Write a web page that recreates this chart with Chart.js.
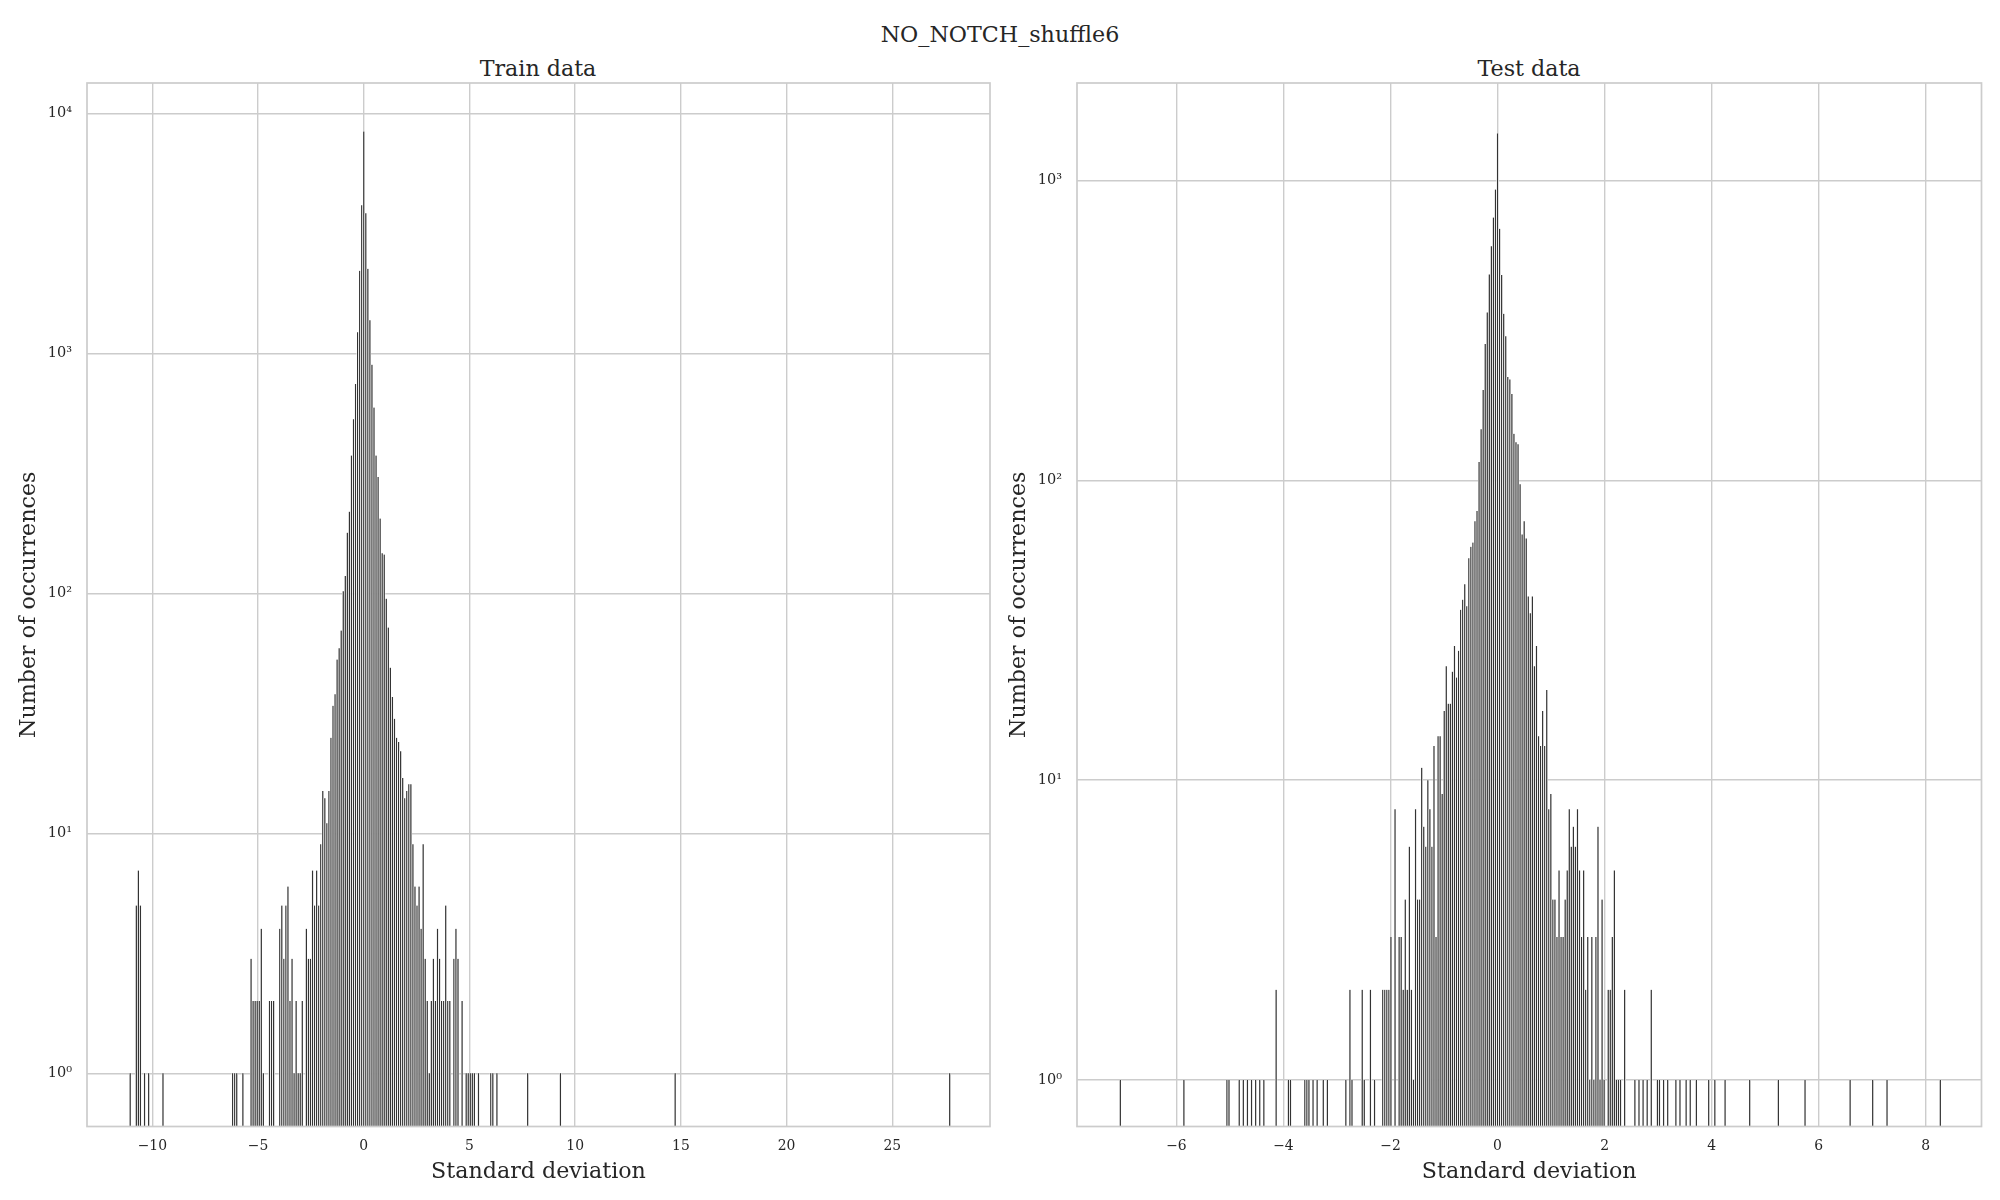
<!DOCTYPE html>
<html>
<head>
<meta charset="utf-8">
<title>NO_NOTCH_shuffle6</title>
<script src="https://cdn.jsdelivr.net/npm/chart.js@4.4.1/dist/chart.umd.min.js"></script>
<style>
  html, body { margin: 0; padding: 0; background: #fff; }
  #page { position: relative; width: 2000px; height: 1200px; overflow: hidden;
          font-family: 'DejaVu Serif', serif; color: #262626; }
  .txt { position: absolute; white-space: nowrap; transform: translate(-50%, -50%); line-height: 1; }
  canvas { position: absolute; top: 0; }
</style>
</head>
<body>
<div id="page">
  <div class="txt" id="supTitle" style="left:1000px; top:34px; font-size:22.2px;"></div>
  <div class="txt" id="trainTitle" style="left:538px; top:68px; font-size:22.2px;"></div>
  <div class="txt" id="testTitle" style="left:1529px; top:68px; font-size:22.2px;"></div>
  <canvas id="trainChart" width="1000" height="1200" style="left:0; width:1000px; height:1200px;"></canvas>
  <canvas id="testChart" width="1000" height="1200" style="left:1000px; width:1000px; height:1200px;"></canvas>
</div>
<script>
'use strict';

const supTitle = 'NO_NOTCH_shuffle6';
const panelTitles = ['Train data', 'Test data'];
const xLabel = 'Standard deviation';
const yLabel = 'Number of occurrences';

// train histogram: bin index (bin centre = index * width) and count
const trainBinWidth = 0.0969;
const trainBins = [
  -114, -111, -110, -109, -107, -105, -98,
  -64, -63, -62, -59,
  -55, -54, -53, -52, -51, -50, -49,
  -46, -45, -44,
  -41, -40, -39, -38, -37, -36, -35, -34, -33, -32, -31, -30,
  -28, -27, -26, -25, -24, -23, -22, -21, -20, -19, -18, -17, -16, -15, -14, -13, -12, -11,
  -10, -9, -8, -7, -6, -5, -4, -3, -2, -1, 0, 1, 2, 3, 4, 5, 6, 7, 8, 9, 10,
  11, 12, 13, 14, 15, 16, 17, 18, 19, 20, 21, 22, 23, 24, 25, 26, 27, 28, 29, 30,
  31, 32, 33, 34, 35, 36, 37, 38, 39, 40, 41, 42,
  44, 45, 46,
  48,
  50, 51, 52, 53, 54,
  56,
  62, 63, 65,
  80, 96, 152, 286
];
const trainCounts = [
  1, 5, 7, 5, 1, 1, 1,
  1, 1, 1, 1,
  3, 2, 2, 2, 2, 4, 1,
  2, 2, 2,
  4, 5, 3, 5, 6, 2, 3, 1, 2, 1, 1, 2,
  4, 3, 3, 7, 5, 7, 5, 9, 15, 14, 11, 15, 25, 34, 38, 53, 59, 70,
  102, 118, 179, 219, 375, 531, 746, 1225, 2210, 4140, 8400, 3840, 2250, 1373, 897, 595, 375, 305, 205, 147, 145,
  95, 72, 49, 37, 30, 25, 24, 22, 17, 14, 15, 16, 16, 9, 6, 5, 6, 4, 9, 3,
  2, 1, 2, 3, 2, 4, 3, 2, 2, 5, 2, 2,
  3, 4, 3,
  2,
  1, 1, 1, 1, 1,
  1,
  1, 1, 1,
  1, 1, 1, 1
];
const trainXRange = [-13.09, 29.62];
const trainYRange = [0.644, 13388];
const trainXTicks = [-10, -5, 0, 5, 10, 15, 20, 25];
const trainYTicks = [1, 10, 100, 1000, 10000];

// test histogram
const testBinWidth = 0.0383;
const testBins = [
  -184, -153, -132, -131, -126, -124, -122, -120, -118, -116, -114, -108, -102, -101,
  -94, -93, -92, -90, -88, -85, -83, -74, -72, -71, -66, -65, -62, -60,
  -56, -55, -54, -53, -52,
  -50,
  -48, -47, -46, -45, -44, -43, -42, -41, -40, -39, -38, -37, -36, -35, -34, -33, -32, -31, -30,
  -29, -28, -27, -26, -25, -24, -23, -22, -21, -20, -19, -18, -17, -16, -15, -14, -13, -12, -11,
  -10, -9, -8, -7, -6, -5, -4, -3, -2, -1, 0,
  1, 2, 3, 4, 5, 6, 7, 8, 9, 10, 11, 12, 13, 14, 15, 16, 17, 18, 19, 20,
  21, 22, 23, 24, 25, 26, 27, 28, 29, 30, 31, 32, 33, 34, 35, 36, 37, 38, 39, 40,
  41, 42, 43, 44, 45, 46, 47, 48, 49, 50, 51, 52,
  54, 55, 56, 57, 58, 59, 60,
  62,
  67, 69, 71, 73, 75, 78, 79, 81, 83, 87, 89, 92, 94, 97, 103, 106,
  111, 123, 137, 150, 172, 183, 190, 216
];
const testCounts = [
  1, 1, 1, 1, 1, 1, 1, 1, 1, 1, 1, 2, 1, 1,
  1, 1, 1, 1, 1, 1, 1, 1, 2, 1, 2, 1, 2, 1,
  2, 2, 2, 2, 3,
  8,
  3, 3, 2, 4, 2, 6, 2, 1, 8, 4, 4, 11, 7, 6, 10, 8, 6, 13, 3,
  14, 14, 9, 17, 24, 18, 18, 23, 28, 22, 27, 37, 40, 45, 38, 55, 60, 62, 73,
  79, 115, 148, 200, 285, 363, 486, 603, 752, 933, 1435,
  690, 484, 359, 302, 221, 217, 194, 143, 134, 132, 97, 66, 73, 64, 41, 36, 41, 24, 28, 14,
  13, 17, 13, 20, 8, 9, 4, 4, 3, 5, 3, 3, 4, 5, 8, 6, 7, 6, 8, 5,
  3, 5, 2, 3, 1, 3, 1, 3, 7, 1, 4, 1,
  2, 2, 3, 5, 1, 1, 1,
  2,
  1, 1, 1, 1, 2, 1, 1, 1, 1, 1, 1, 1, 1, 1, 1, 1,
  1, 1, 1, 1, 1, 1, 1, 1
];
const testXRange = [-7.857, 9.042];
const testYRange = [0.702, 2113];
const testXTicks = [-6, -4, -2, 0, 2, 4, 6, 8];
const testYTicks = [1, 10, 100, 1000];

const textColor = '#262626';
const gridColor = '#cccccc';
const serif = 'DejaVu Serif';

document.getElementById('supTitle').textContent = supTitle;
document.getElementById('trainTitle').textContent = panelTitles[0];
document.getElementById('testTitle').textContent = panelTitles[1];

const superDigits = { '0': '\u2070', '1': '\u00b9', '2': '\u00b2', '3': '\u00b3', '4': '\u2074' };

function powerLabel(value) {
  let exp = Math.round(Math.log10(value));
  return '10' + String(exp).split('').map(function (d) { return superDigits[d]; }).join('');
}

function minusLabel(value) {
  return value < 0 ? '\u2212' + Math.abs(value) : String(value);
}

// light grey frame round the plot area, like the axes spines
let framePlugin = {
  id: 'frame',
  afterDatasetsDraw(chart) {
    let area = chart.chartArea;
    let ctx = chart.ctx;
    ctx.save();
    ctx.strokeStyle = gridColor;
    ctx.lineWidth = 1.7;
    ctx.strokeRect(area.left, area.top, area.right - area.left, area.bottom - area.top);
    ctx.restore();
  }
};

function drawHistogram(canvasId, bins, counts, binWidth, xRange, yRange, xTicks, yTicks, box) {
  let points = bins.map(function (bin, i) {
    return { x: bin * binWidth, y: counts[i] };
  });

  new Chart(document.getElementById(canvasId), {
    type: 'bar',
    data: {
      datasets: [{
        data: points,
        backgroundColor: '#333333',
        borderColor: '#ffffff',
        borderWidth: { left: 0.75, right: 0.75, top: 0, bottom: 0 },
        borderSkipped: false,
        barPercentage: 1,
        categoryPercentage: 1
      }]
    },
    options: {
      responsive: false,
      animation: false,
      devicePixelRatio: 1,
      layout: { padding: { top: 83, right: box.padRight, bottom: 0, left: 0 } },
      plugins: { legend: { display: false }, tooltip: { enabled: false } },
      scales: {
        x: {
          type: 'linear',
          min: xRange[0],
          max: xRange[1],
          offset: false,
          afterBuildTicks: function (axis) {
            axis.ticks = xTicks.map(function (v) { return { value: v }; });
          },
          afterFit: function (axis) { axis.height = 73.5; },
          ticks: {
            callback: minusLabel,
            autoSkip: false,
            maxRotation: 0,
            padding: 12,
            color: textColor,
            font: { family: serif, size: 13.9 }
          },
          grid: { color: gridColor, lineWidth: 1.4, drawTicks: false, offset: false },
          border: { display: false },
          title: {
            display: true,
            text: xLabel,
            color: textColor,
            font: { family: serif, size: 22.2 },
            padding: { top: 0, bottom: 14.5 }
          }
        },
        y: {
          type: 'logarithmic',
          min: yRange[0],
          max: yRange[1],
          afterBuildTicks: function (axis) {
            axis.ticks = yTicks.map(function (v) { return { value: v }; });
          },
          afterFit: function (axis) { axis.width = box.yWidth; },
          ticks: {
            callback: powerLabel,
            autoSkip: false,
            padding: 15,
            color: textColor,
            font: { family: serif, size: 14.5 }
          },
          grid: { color: gridColor, lineWidth: 1.4, drawTicks: false, offset: false },
          border: { display: false },
          title: {
            display: true,
            text: yLabel,
            color: textColor,
            font: { family: serif, size: 22.2 },
            padding: { top: box.yTitlePad, bottom: 0 }
          }
        }
      }
    },
    plugins: [framePlugin]
  });
}

drawHistogram('trainChart', trainBins, trainCounts, trainBinWidth, trainXRange, trainYRange,
  trainXTicks, trainYTicks, { yWidth: 87, padRight: 10, yTitlePad: 16 });
drawHistogram('testChart', testBins, testCounts, testBinWidth, testXRange, testYRange,
  testXTicks, testYTicks, { yWidth: 77, padRight: 18.5, yTitlePad: 5.8 });
</script>
</body>
</html>
